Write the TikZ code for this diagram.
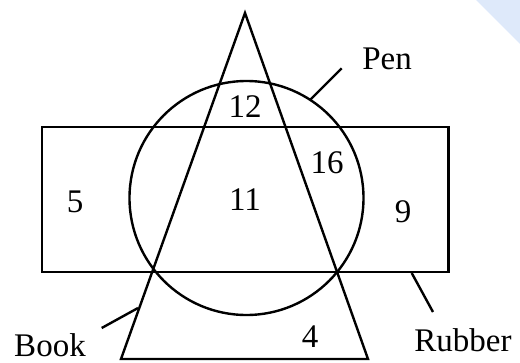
\documentclass[tikz,border=0pt]{standalone}
\usepackage{fontspec}
\setmainfont{Liberation Serif}
\usetikzlibrary{positioning}
\definecolor{cornerblue}{RGB}{222,233,250}

\begin{document}
\begin{tikzpicture}[x=1pt,y=-1pt,
  set/.style={draw,line width=2.4pt,line join=miter},
  num/.style={font=\fontsize{33}{38}\selectfont,inner sep=0pt},
  lbl/.style={font=\fontsize{33}{38}\selectfont,inner sep=0pt},
  lead/.style={line width=2.4pt}
]
\useasboundingbox (0,0) rectangle (520,362);
\fill[cornerblue] (476,0) -- (520,0) -- (520,44) -- cycle;
% sets
\draw[set] (41.7,126.7) rectangle (448.3,271.7);
\draw[set] (246.5,198) circle[radius=117pt];
\draw[set] (245,13) -- (368,359) -- (121,359) -- cycle;
% region counts
\node[num] (n12) at (245,107) {12};
\node[num] (n16) at (327,163) {16};
\node[num] (n5)  at (75,202)  {5};
\node[num] (n11) at (245,200) {11};
\node[num] (n9)  at (403,212) {9};
\node[num] (n4)  at (310,337) {4};
% set names
\node[lbl] (pen)    at (387,59)  {Pen};
\node[lbl] (rubber) at (463,340) {Rubber};
\node[lbl] (book)   at (50,345)  {Book};
\coordinate (penA) at (341.7,68.3);  \coordinate (penB) at (310,100);
\coordinate (rubA) at (433,312);     \coordinate (rubB) at (411.7,273);
\coordinate (bookA) at (101.7,328);  \coordinate (bookB) at (138,308);
\draw[lead] (penA) -- (penB);
\draw[lead] (rubA) -- (rubB);
\draw[lead] (bookA) -- (bookB);
\end{tikzpicture}
\end{document}
